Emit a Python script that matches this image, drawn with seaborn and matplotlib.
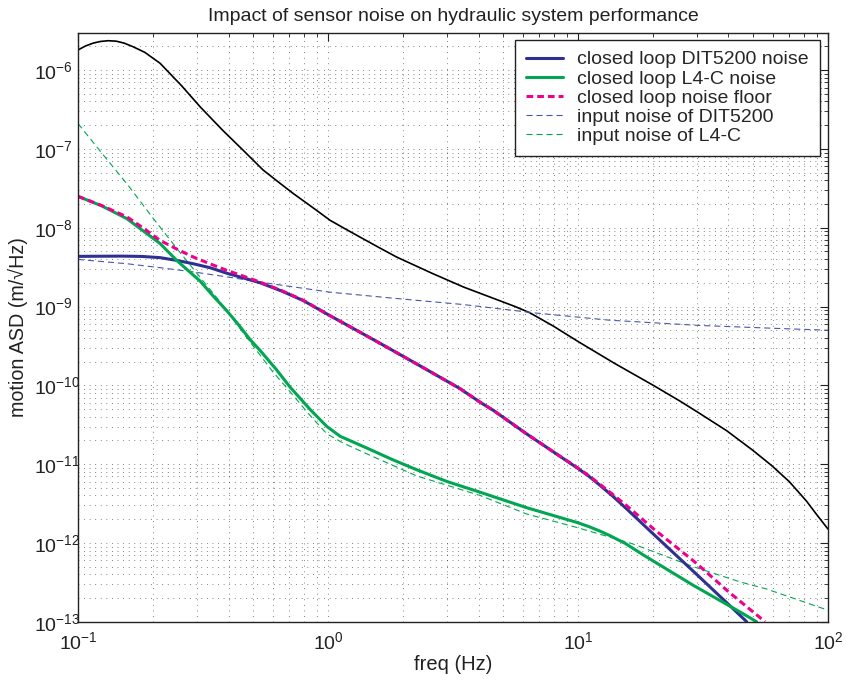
import numpy as np
import pandas as pd
import matplotlib
matplotlib.use("Agg")
import matplotlib.pyplot as plt
import seaborn as sns
from matplotlib.ticker import LogLocator, NullFormatter, FixedLocator

# ---------------- data ----------------
f_black = [0.1, 0.107, 0.115, 0.123, 0.132, 0.142, 0.153, 0.166, 0.185, 0.213, 0.26, 0.308,
           0.38, 0.452, 0.55, 0.64, 0.727, 0.88, 1.02, 1.15, 1.343, 1.6, 1.88, 2.6, 3.48, 4.5,
           5.6, 6.43, 8.0, 10.0, 14.0, 20.0, 25.6, 30.0, 39.3, 50.0, 59.5, 70.0, 82.0, 90.0, 100.0]
v_black = [1.80e-6, 2.02e-6, 2.2e-6, 2.31e-6, 2.36e-6, 2.33e-6, 2.2e-6, 1.98e-6, 1.68e-6,
           1.22e-6, 6.3e-7, 3.42e-7, 1.71e-7, 1.0e-7, 5.4e-8, 3.7e-8, 2.71e-8, 1.75e-8,
           1.24e-8, 1.0e-8, 7.6e-9, 5.6e-9, 4.25e-9, 2.65e-9, 1.77e-9, 1.3e-9, 1.0e-9, 8.3e-10,
           5.6e-10, 3.6e-10, 1.9e-10, 1.0e-10, 6.3e-11, 4.6e-11, 2.66e-11, 1.5e-11, 9.6e-12,
           6.0e-12, 3.4e-12, 2.3e-12, 1.5e-12]

f_dit_in = [0.1, 0.157, 0.213, 0.289, 0.393, 0.535, 0.75, 1.02, 1.8, 3.47, 6.7, 13.4, 30.7,
            60.0, 100.0]
v_dit_in = [3.96e-9, 3.49e-9, 3.11e-9, 2.75e-9, 2.38e-9, 2.04e-9, 1.75e-9, 1.52e-9, 1.28e-9,
            1.06e-9, 8.3e-10, 6.7e-10, 5.75e-10, 5.3e-10, 5.0e-10]

f_l4c_in = [0.1, 0.125, 0.157, 0.2, 0.248, 0.3, 0.37, 0.44, 0.488, 0.6, 0.705, 0.85, 0.99,
            1.15, 1.43, 2.26, 4.06, 6.23, 9.9, 16.6, 28.9, 44.5, 56.8, 100.0]
v_l4c_in = [2.1e-7, 8.7e-8, 3.6e-8, 1.31e-8, 5.5e-9, 2.6e-9, 1.15e-9, 5.5e-10, 3.55e-10,
            1.5e-10, 8.3e-11, 4.1e-11, 2.42e-11, 1.85e-11, 1.35e-11, 7.1e-12, 4.0e-12,
            2.33e-12, 1.57e-12, 9.7e-13, 5.0e-13, 3.2e-13, 2.6e-13, 1.4e-13]

f_dit_cl = [0.1, 0.15, 0.18, 0.213, 0.248, 0.289, 0.337, 0.393, 0.46, 0.535, 0.65, 0.796, 1.0,
            1.3, 1.72, 2.4, 3.37, 4.06, 4.59, 6.23, 8.0, 9.9, 11.0, 12.2, 13.8, 15.7, 20.0,
            29.8, 40.0, 47.3]
v_dit_cl = [4.33e-9, 4.36e-9, 4.32e-9, 4.17e-9, 3.85e-9, 3.49e-9, 3.11e-9, 2.65e-9, 2.3e-9,
            2.0e-9, 1.58e-9, 1.19e-9, 7.9e-10, 5.0e-10, 3.05e-10, 1.68e-10, 9.1e-11, 6.1e-11,
            4.8e-11, 2.42e-11, 1.42e-11, 9.0e-12, 7.1e-12, 5.44e-12, 3.9e-12, 2.68e-12,
            1.3e-12, 4.0e-13, 1.66e-13, 1.0e-13]

f_l4c_cl = [0.1, 0.125, 0.157, 0.185, 0.213, 0.248, 0.308, 0.348, 0.393, 0.44, 0.488, 0.535,
            0.62, 0.705, 0.85, 0.99, 1.12, 1.43, 1.8, 2.26, 3.0, 4.06, 6.23, 9.9, 11.0, 12.2,
            13.4, 15.5, 18.3, 28.9, 44.5, 51.8]
v_l4c_cl = [2.5e-8, 1.88e-8, 1.3e-8, 8.8e-9, 6.3e-9, 3.85e-9, 2.1e-9, 1.35e-9, 8.9e-10,
            5.8e-10, 3.8e-10, 2.77e-10, 1.6e-10, 9.5e-11, 4.9e-11, 3.0e-11, 2.25e-11, 1.6e-11,
            1.15e-11, 8.5e-12, 6.0e-12, 4.4e-12, 2.8e-12, 1.82e-12, 1.62e-12, 1.42e-12,
            1.24e-12, 9.8e-13, 7.0e-13, 2.9e-13, 1.33e-13, 1.0e-13]

f_floor = [0.1, 0.125, 0.157, 0.185, 0.213, 0.25, 0.289, 0.34, 0.393, 0.46, 0.535, 0.65,
           0.796, 1.0, 1.3, 1.72, 2.4, 3.37, 4.06, 4.59, 6.23, 8.0, 9.9, 11.0, 12.2, 13.8,
           15.7, 20.0, 29.8, 40.0, 56.0]
v_floor = [2.5e-8, 1.9e-8, 1.37e-8, 9.6e-9, 6.9e-9, 5.3e-9, 4.25e-9, 3.45e-9, 2.88e-9,
           2.42e-9, 2.04e-9, 1.6e-9, 1.2e-9, 7.9e-10, 5.0e-10, 3.05e-10, 1.68e-10, 9.1e-11,
           6.1e-11, 4.8e-11, 2.42e-11, 1.42e-11, 9.1e-12, 7.2e-12, 5.6e-12, 4.1e-12,
           2.95e-12, 1.52e-12, 5.5e-13, 2.4e-13, 1.0e-13]

x_major = [0.1, 1.0, 10.0, 100.0]
y_major = [1e-13, 1e-12, 1e-11, 1e-10, 1e-9, 1e-8, 1e-7, 1e-6]

labels = ["closed loop DIT5200 noise", "closed loop L4-C noise", "closed loop noise floor",
          "input noise of DIT5200", "input noise of L4-C"]
title = "Impact of sensor noise on hydraulic system performance"
xlabel = "freq (Hz)"
ylabel = "motion ASD (m/\u221aHz)"

# ---------------- style ----------------
sns.set_style("white")
plt.rcParams["font.family"] = ["Liberation Sans", "DejaVu Sans"]
plt.rcParams["mathtext.fontset"] = "custom"
plt.rcParams["mathtext.rm"] = "Liberation Sans"
plt.rcParams["mathtext.it"] = "Liberation Sans:italic"
plt.rcParams["axes.unicode_minus"] = False

TXT = "#222222"
BLUE = "#2E3192"
GREEN = "#00A651"
PINK = "#EC008C"
BLUE_D = "#4A56A8"
GREEN_D = "#00A651"

fig = plt.figure(figsize=(8.46, 6.80), dpi=100)
ax = fig.add_axes([0.0922, 0.0857, 0.8865, 0.8665])

kw = dict(ax=ax, estimator=None, sort=False, legend=False)
sns.lineplot(x=f_black, y=v_black, color="black", lw=1.2, **kw)
l_dit_in = sns.lineplot(x=f_dit_in, y=v_dit_in, color=BLUE_D, lw=0.8, **kw).lines[-1]
l_dit_in.set_dashes((5.5, 3.5))
l_l4c_in = sns.lineplot(x=f_l4c_in, y=v_l4c_in, color=GREEN_D, lw=0.8, **kw).lines[-1]
l_l4c_in.set_dashes((5.5, 3.5))
l_dit_cl = sns.lineplot(x=f_dit_cl, y=v_dit_cl, color=BLUE, lw=2.2, **kw).lines[-1]
l_l4c_cl = sns.lineplot(x=f_l4c_cl, y=v_l4c_cl, color=GREEN, lw=2.2, **kw).lines[-1]
l_floor = sns.lineplot(x=f_floor, y=v_floor, color=PINK, lw=2.2, **kw).lines[-1]
l_floor.set_dashes((2.2, 1.3))
for ln in ax.get_lines():
    ln.set_solid_joinstyle("round")
    ln.set_dash_joinstyle("round")

ax.set_xscale("log")
ax.set_yscale("log")
ax.set_xlim(0.1, 100)
ax.set_ylim(1e-13, 3e-6)

ax.xaxis.set_major_locator(FixedLocator(x_major))
ax.yaxis.set_major_locator(FixedLocator(y_major))
ax.xaxis.set_minor_locator(LogLocator(base=10, subs=np.arange(2, 10), numticks=100))
ax.yaxis.set_minor_locator(LogLocator(base=10, subs=np.arange(2, 10), numticks=100))
ax.xaxis.set_minor_formatter(NullFormatter())
ax.yaxis.set_minor_formatter(NullFormatter())

ax.grid(True, which="both", color="black", linestyle=(0, (1.0, 5.7)), linewidth=0.6, alpha=0.65)
ax.tick_params(which="both", direction="in", top=True, right=True, colors=TXT,
               labelcolor=TXT)
ax.tick_params(which="major", length=6, width=0.8, labelsize=14)
ax.tick_params(axis="x", which="major", pad=7)
ax.tick_params(axis="y", which="major", pad=32)
ax.tick_params(which="minor", length=3, width=0.6)
for s in ax.spines.values():
    s.set_color(TXT)
    s.set_linewidth(1.0)

# MATLAB-style export: y tick labels start at a common left edge
fig.canvas.draw()
for lbl in ax.get_yticklabels():
    lbl.set_horizontalalignment("left")

ax.set_title(title, fontsize=14, color=TXT, pad=8)
ax.set_xlabel(xlabel, fontsize=14.5, color=TXT, labelpad=1)
ax.set_ylabel(ylabel, fontsize=14.2, color=TXT, labelpad=4)

leg = ax.legend([l_dit_cl, l_l4c_cl, l_floor, l_dit_in, l_l4c_in], labels,
                loc="upper right", bbox_to_anchor=(0.989, 0.987), fontsize=14,
                frameon=True, fancybox=False, framealpha=1, edgecolor=TXT,
                handlelength=1.9, handletextpad=0.75, labelspacing=0.08,
                borderpad=0.55, borderaxespad=0.0)
leg.get_frame().set_linewidth(1.0)

fig.savefig("out.png", dpi=100)
